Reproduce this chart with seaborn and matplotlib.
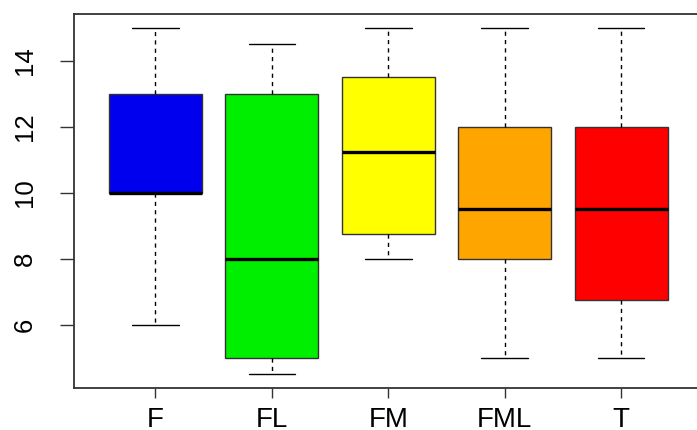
import matplotlib
matplotlib.use("Agg")
import matplotlib.pyplot as plt
import seaborn as sns
import pandas as pd

# Five-number summaries for each group (min, Q1, median, Q3, max)
groups = ["F", "FL", "FM", "FML", "T"]
F_vals = [6, 10, 10, 13, 15]
FL_vals = [4.5, 5, 8, 13, 14.5]
FM_vals = [8, 8.75, 11.25, 13.5, 15]
FML_vals = [5, 8, 9.5, 12, 15]
T_vals = [5, 6.75, 9.5, 12, 15]
box_colors = ["#0000EE", "#00EE00", "#FFFF00", "#FFA500", "#FF0000"]
y_ticks = [6, 8, 10, 12, 14]

df = pd.DataFrame({
    "group": [g for g, v in zip(groups, [F_vals, FL_vals, FM_vals, FML_vals, T_vals]) for _ in v],
    "value": F_vals + FL_vals + FM_vals + FML_vals + T_vals,
})

sns.set_style("white")
plt.rcParams["font.family"] = ["Liberation Sans", "DejaVu Sans"]

fig = plt.figure(figsize=(6.97, 4.30), dpi=100)
W, H = 697, 430
ax = fig.add_axes([74 / W, (H - 388) / H, (702.6 - 74) / W, (388 - 14) / H])

sns.boxplot(
    data=df, x="group", y="value", hue="group", order=groups, hue_order=groups,
    palette=box_colors, saturation=1, legend=False, width=0.8, whis=1.5, ax=ax,
    linecolor="#333333", linewidth=1.0, showfliers=False,
    medianprops={"color": "black", "linewidth": 2.4},
    whiskerprops={"color": "black", "linestyle": (0, (3, 3)), "linewidth": 1.0},
    capprops={"color": "black", "linewidth": 1.0},
)

ax.set_xlim(-0.7, 4.7)
ax.set_ylim(4.08, 15.42)
ax.set_yticks(y_ticks)
ax.set_yticklabels([str(t) for t in y_ticks], rotation=90, va="center")
ax.set_xlabel("")
ax.set_ylabel("")

ax.tick_params(axis="y", length=10, width=1.0, color="#333333", pad=17,
               labelsize=18.5, labelcolor="black", left=True)
ax.tick_params(axis="x", length=7, width=1.0, color="#333333", pad=7,
               labelsize=20, labelcolor="black", bottom=True)
for s in ax.spines.values():
    s.set_color("#333333")
    s.set_linewidth(1.3)

fig.savefig("out.png", dpi=100)
